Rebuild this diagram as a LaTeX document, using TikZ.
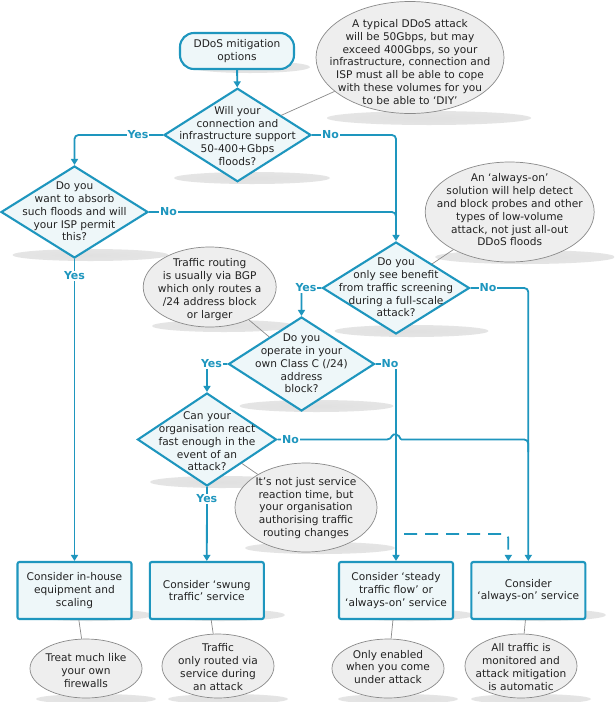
\documentclass[tikz,border=0pt]{standalone}
\usepackage{fontspec}
\setmainfont{DejaVu Sans}
\usetikzlibrary{shapes.geometric,arrows.meta,calc}
\definecolor{flowblue}{HTML}{1E96BE}
\definecolor{boxfill}{HTML}{EEF7F9}
\definecolor{callfill}{HTML}{EEEEEE}
\definecolor{callline}{HTML}{8A8A8A}
\definecolor{txt}{HTML}{222222}
\pgfdeclareradialshading{shfade}{\pgfpoint{0bp}{0bp}}{color(0bp)=(black!12); color(30bp)=(black!10); color(50bp)=(white)}
\tikzset{
  every node/.style={text=txt, font=\fontsize{10.6}{12.8}\selectfont},
  decision/.style={diamond, draw=flowblue, fill=boxfill, line width=2.1pt, inner sep=0pt},
  startbox/.style={rectangle, rounded corners=14pt, draw=flowblue, fill=boxfill, line width=2.1pt,
    minimum width=114pt, minimum height=36pt, align=center, inner sep=0pt},
  resultbox/.style={rectangle, rounded corners=2pt, draw=flowblue, fill=boxfill, line width=2.1pt,
    minimum width=114pt, minimum height=57pt, align=center, inner sep=0pt},
  callout/.style={ellipse, draw=callline, fill=callfill, line width=0.7pt, inner sep=0pt},
  ttext/.style={align=center, inner sep=0pt},
  conn/.style={draw=flowblue, line width=1.8pt, rounded corners=4pt},
  arr/.style={-{Triangle[length=6pt,width=7pt]}},
  pointer/.style={draw=callline, line width=0.7pt},
  lab/.style={font=\fontsize{11}{13}\selectfont\bfseries, text=flowblue, fill=white, inner sep=1pt},
  shadowfx/.style={shading=shfade},
  dashline/.style={dash pattern=on 13pt off 8pt, dash phase=13pt},
}
\begin{document}
\begin{tikzpicture}[x=1pt,y=-1pt]
\useasboundingbox (0,0) rectangle (614,702);
\fill[white] (0,0) rectangle (614,702);

% shadows
\shade[shadowfx] (250,67) ellipse (60 and 6);
\shade[shadowfx] (252,178) ellipse (78 and 6);
\shade[shadowfx] (90.5,255) ellipse (78 and 6);
\shade[shadowfx] (411.5,331) ellipse (77 and 6);
\shade[shadowfx] (316.5,406) ellipse (77 and 6);
\shade[shadowfx] (222,482) ellipse (72 and 6);
\shade[shadowfx] (429,118) ellipse (102 and 7);
\shade[shadowfx] (525,257) ellipse (90 and 7);
\shade[shadowfx] (224,326) ellipse (72 and 6);
\shade[shadowfx] (320,548) ellipse (75 and 6);
\shade[shadowfx] (89,615) ellipse (64 and 6);
\shade[shadowfx] (221,615) ellipse (64 and 6);
\shade[shadowfx] (410,615) ellipse (64 and 6);
\shade[shadowfx] (542,615) ellipse (64 and 6);
\shade[shadowfx] (96,699) ellipse (60 and 5);
\shade[shadowfx] (228,699) ellipse (60 and 5);
\shade[shadowfx] (398,699) ellipse (60 and 5);
\shade[shadowfx] (531,699) ellipse (60 and 5);

% callouts
\node[callout, minimum width=188pt, minimum height=112pt] (c1) at (410,57.5) {};
\node[ttext] (c1t) at (410,62) {A typical DDoS attack\\will be 50Gbps, but may\\exceed 400Gbps, so your\\infrastructure, connection and\\ISP must all be able to cope\\with these volumes for you\\to be able to ‘DIY’};
\node[callout, minimum width=169pt, minimum height=100pt] (c2) at (509.7,212) {};
\node[ttext] (c2t) at (509.7,210) {An ‘always-on’\\solution will help detect\\and block probes and other\\types of low-volume\\attack, not just all-out\\DDoS floods};
\node[callout, minimum width=133pt, minimum height=80pt] (c3) at (209.7,287) {};
\node[ttext] (c3t) at (209.7,289.5) {Traffic routing\\is usually via BGP\\which only routes a\\/24 address block\\or larger};
\node[callout, minimum width=142pt, minimum height=89pt] (c4) at (306,507.5) {};
\node[ttext] (c4t) at (306,508) {It’s not just service\\reaction time, but\\your organisation\\authorising traffic\\routing changes};

% start
\node[startbox] (start) at (237,51) {DDoS mitigation\\options};

% decisions
\node[decision, minimum width=147pt, minimum height=93.5pt] (d1) at (237.5,135) {};
\node[ttext] (d1t) at (237.5,136) {Will your\\connection and\\infrastructure support\\50-400+Gbps\\floods?};
\node[decision, minimum width=147pt, minimum height=92pt] (d2) at (74.5,212) {};
\node[ttext] (d2t) at (74.5,211.5) {Do you\\want to absorb\\such floods and will\\your ISP permit\\this?};
\node[decision, minimum width=147pt, minimum height=92pt] (d3) at (396,288) {};
\node[ttext] (d3t) at (396,287.5) {Do you\\only see benefit\\from traffic screening\\during a full-scale\\attack?};
\node[decision, minimum width=146pt, minimum height=94pt] (d4) at (301.5,364) {};
\node[ttext] (d4t) at (301.5,363.5) {Do you\\operate in your\\own Class C (/24)\\address\\block?};
\node[decision, minimum width=139pt, minimum height=93pt] (d5) at (207,439.5) {};
\node[ttext] (d5t) at (207,441.5) {Can your\\organisation react\\fast enough in the\\event of an\\attack?};

% result boxes
\node[resultbox] (b1) at (74.5,590.5) {Consider in-house\\equipment and\\scaling};
\node[resultbox] (b2) at (206.8,590.5) {Consider ‘swung\\traffic’ service};
\node[resultbox] (b3) at (396,590.5) {Consider ‘steady\\traffic flow’ or\\‘always-on’ service};
\node[resultbox] (b4) at (528.3,590.5) {Consider\\‘always-on’ service};

% bottom callouts
\node[callout, minimum width=112pt, minimum height=59pt] (e1) at (86,668.5) {};
\node[ttext] (e1t) at (86,670.5) {Treat much like\\your own\\firewalls};
\node[callout, minimum width=112pt, minimum height=64pt] (e2) at (218,666) {};
\node[ttext] (e2t) at (218,667) {Traffic\\only routed via\\service during\\an attack};
\node[callout, minimum width=112pt, minimum height=59pt] (e3) at (388,668.5) {};
\node[ttext] (e3t) at (388,667) {Only enabled\\when you come\\under attack};
\node[callout, minimum width=112pt, minimum height=64pt] (e4) at (521,666) {};
\node[ttext] (e4t) at (521,667) {All traffic is\\monitored and\\attack mitigation\\is automatic};

% pointers
\draw[pointer] (c1) -- (d1);
\draw[pointer] (c2) -- (d3);
\draw[pointer] (c3) -- (d4);
\draw[pointer] (c4) -- (d5);
\draw[pointer] (b1) -- (e1);
\draw[pointer] (b2) -- (e2);
\draw[pointer] (b3) -- (e3);
\draw[pointer] (b4) -- (e4);

% helper coordinates
\coordinate (j1) at (396,224);
\coordinate (h1) at (391,439.5);
\coordinate (h2) at (401,439.5);
\coordinate (j2) at (528.3,452);
\coordinate (ds) at (396,534);

% connectors
\draw[conn,arr] (start) -- (d1);
\draw[conn,arr] (d1.west) -| (d2.north);
\draw[conn,arr] (d1.east) -| (d3.north);
\draw[conn] (d2.east) -| (j1);
\draw[conn,arr] (d2.south) -- (b1.north);
\draw[conn,arr] (d3.west) -| (d4.north);
\draw[conn,arr] (d3.east) -| (b4.north);
\draw[conn,arr] (d4.west) -| (d5.north);
\draw[conn,arr] (d4.east) -| (b3.north);
\draw[conn] (d5.east) -- (h1) .. controls ($(h1)+(2,-6)$) and ($(h2)+(-2,-6)$) .. (h2);
\draw[conn] (h2) -| (j2);
\draw[conn,arr] (d5.south) -- (b2.north);
\draw[conn,dashline,arr] (ds) -| ([xshift=-20pt]b4.north);

% branch labels
\node[lab] (l1y) at (138,135) {Yes};
\node[lab] (l1n) at (330.5,135) {No};
\node[lab] (l2n) at (168.6,212) {No};
\node[lab] (l2y) at (74.5,276) {Yes};
\node[lab] (l3y) at (306,288) {Yes};
\node[lab] (l3n) at (488,288) {No};
\node[lab] (l4y) at (211.5,364) {Yes};
\node[lab] (l4n) at (390,364) {No};
\node[lab] (l5n) at (290.5,439.5) {No};
\node[lab] (l5y) at (206.8,499) {Yes};
\end{tikzpicture}
\end{document}
